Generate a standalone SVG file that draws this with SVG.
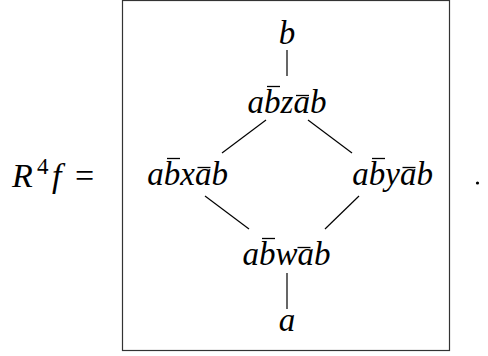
<svg xmlns="http://www.w3.org/2000/svg" width="488" height="356" viewBox="0 0 488 356">
<style>
text{font-family:"Liberation Serif","Times New Roman",serif;font-size:33px;fill:#000}
.m{font-style:italic}
.u{font-style:normal}
.c{text-anchor:middle}
.e{stroke:#000;stroke-width:1.2;fill:none}
.bar{stroke:#000;stroke-width:1.3}
</style>
<rect x="0" y="0" width="488" height="356" fill="#fff"/>
<rect x="122.5" y="0.5" width="327" height="350" fill="none" stroke="#333" stroke-width="1.2"/>
<g id="lhs">
<text x="12" y="187" class="m" style="font-size:34px">R</text>
<text x="37" y="174" class="u" style="font-size:23px">4</text>
<text x="52" y="187" class="m" style="font-size:34px">f</text>
<text x="75" y="187" class="u" style="font-size:34px">=</text>
</g>
<g id="period"><circle cx="477.5" cy="183" r="1.6" fill="#000"/></g>
<g id="connectors">
<line class="e" x1="287" y1="50" x2="287" y2="76"/>
<line class="e" x1="266" y1="120" x2="222" y2="153"/>
<line class="e" x1="308" y1="120" x2="352" y2="153"/>
<line class="e" x1="205" y1="196" x2="249" y2="229"/>
<line class="e" x1="359" y1="196" x2="325" y2="229"/>
<line class="e" x1="287" y1="273" x2="287" y2="309"/>
</g>
<g id="node-b"><text x="287" y="44" class="m c">b</text></g>
<g id="node-z">
<text x="247.6" y="113" class="m">abzab</text>
<line class="bar" x1="267" y1="86.5" x2="280" y2="86.5"/>
<line class="bar" x1="296" y1="95.5" x2="309" y2="95.5"/>
</g>
<g id="node-x">
<text x="147.3" y="185" class="m">abxab</text>
<line class="bar" x1="167" y1="158.5" x2="180" y2="158.5"/>
<line class="bar" x1="197.5" y1="167.5" x2="210.5" y2="167.5"/>
</g>
<g id="node-y">
<text x="352.3" y="185" class="m">abyab</text>
<line class="bar" x1="372" y1="158.5" x2="385" y2="158.5"/>
<line class="bar" x1="402.5" y1="167.5" x2="415.5" y2="167.5"/>
</g>
<g id="node-w">
<text x="242.5" y="265" class="m">abwab</text>
<line class="bar" x1="262" y1="238.5" x2="275" y2="238.5"/>
<line class="bar" x1="297.5" y1="247.5" x2="310.5" y2="247.5"/>
</g>
<g id="node-a"><text x="287" y="331" class="m c">a</text></g>
</svg>
